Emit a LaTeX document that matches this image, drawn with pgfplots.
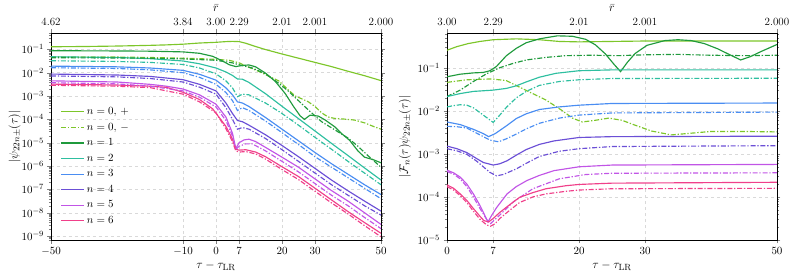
\documentclass[border=0pt]{standalone}
\usepackage{pgfplots}
\pgfplotsset{compat=1.18}
\definecolor{c0}{HTML}{7DC62A}
\definecolor{c1}{HTML}{1F9A3C}
\definecolor{c2}{HTML}{2EBFA0}
\definecolor{c3}{HTML}{4A8DF2}
\definecolor{c4}{HTML}{6B4FD6}
\definecolor{c5}{HTML}{C155E6}
\definecolor{c6}{HTML}{F0408A}
\pgfplotsset{
  base/.style={scale only axis, width=330pt, height=207pt, anchor=south west,
    tick align=outside, major tick length=3.5pt, minor tick length=2pt,
    tick label style={font=\fontsize{11}{13}\selectfont},
    label style={font=\fontsize{13}{15}\selectfont},
    every axis plot/.append style={line width=1.15pt}},
  dd/.style={dash pattern=on 5pt off 1.8pt on 1.3pt off 1.8pt},
}
\newcommand{\lp}[2]{\addplot[#1] table[row sep=\\, y expr={10^(\thisrowno{1})}] {#2};}
\begin{document}
\begin{tikzpicture}
% ---------------- LEFT PANEL ----------------
\begin{axis}[base, at={(0pt,0pt)}, xmin=-50, xmax=50, ymode=log, ymin=6.8e-10, ymax=0.5,
  xtick={-50,-10,0,7,20,30,50}, grid=major, major grid style={gray!30, dashed, line width=0.4pt},
  xlabel={$\tau-\tau_{\mathrm{LR}}$}, ylabel={$|\psi_{22n\pm}(\tau)|$},
  xlabel style={at={(axis description cs:0.5,-0.125)}, anchor=center},
  ylabel style={at={(axis description cs:-0.11,0.5)}, anchor=center},
  legend style={at={(0.02,0.66)}, anchor=north west, draw=none, fill=none,
    font=\fontsize{11}{13}\selectfont, row sep=3pt},
  legend cell align=left,
  legend image code/.code={\draw[#1, line width=1.15pt] (0pt,0pt) -- (23pt,0pt);}]
\lp{c0}{t v\\ -50 -0.89\\ -40 -0.88\\ -30 -0.86\\ -20 -0.83\\ -15 -0.81\\ -10 -0.78\\ -5 -0.73\\ 0 -0.70\\ 3 -0.67\\ 5 -0.66\\ 7 -0.67\\ 9 -0.74\\ 12 -0.88\\ 15 -1.01\\ 20 -1.20\\ 25 -1.38\\ 30 -1.56\\ 35 -1.74\\ 40 -1.94\\ 45 -2.13\\ 50 -2.34\\}
\addlegendentry{$n=0,\,+$}
\lp{c0,dd}{t v\\ -50 -1.32\\ -30 -1.33\\ -20 -1.35\\ -10 -1.38\\ -5 -1.40\\ 0 -1.43\\ 4 -1.47\\ 7 -1.58\\ 10 -1.77\\ 13 -1.95\\ 16 -2.15\\ 19 -2.35\\ 22 -2.75\\ 24 -3.0\\ 26 -3.12\\ 28 -3.25\\ 30 -3.45\\ 32 -3.72\\ 34 -3.9\\ 36 -3.96\\ 39 -3.99\\ 42 -4.03\\ 45 -4.15\\ 48 -4.32\\ 50 -4.42\\}
\addlegendentry{$n=0,\,-$}
\lp{c1}{t v\\ -50 -1.06\\ -30 -1.07\\ -20 -1.08\\ -10 -1.11\\ -5 -1.17\\ -1 -1.30\\ 2 -1.50\\ 4 -1.66\\ 6 -1.74\\ 8 -1.69\\ 10 -1.67\\ 12 -1.75\\ 15 -2.02\\ 18 -2.38\\ 21 -2.9\\ 23.5 -3.45\\ 25.5 -3.85\\ 26.8 -4.0\\ 28.5 -3.82\\ 31 -3.86\\ 33 -4.02\\ 36 -4.32\\ 38 -4.6\\ 40.5 -4.9\\ 43 -5.35\\ 45 -5.62\\ 47.5 -5.72\\ 50 -5.86\\}
\addlegendentry{$n=1$}
\lp{c2}{t v\\ -50 -1.32\\ -30 -1.35\\ -20 -1.40\\ -10 -1.50\\ -5 -1.62\\ 0 -1.80\\ 3 -1.97\\ 5 -2.12\\ 6.5 -2.27\\ 8 -2.28\\ 10 -2.42\\ 15 -2.9\\ 20 -3.44\\ 25 -3.97\\ 30 -4.5\\ 35 -5.03\\ 40 -5.55\\ 45 -6.08\\ 50 -6.6\\}
\addlegendentry{$n=2$}
\lp{c3}{t v\\ -50 -1.72\\ -30 -1.75\\ -20 -1.80\\ -10 -1.90\\ -5 -2.07\\ 0 -2.32\\ 3 -2.65\\ 5 -2.95\\ 6.5 -3.25\\ 8 -3.3\\ 10 -3.45\\ 15 -3.92\\ 20 -4.42\\ 25 -4.92\\ 30 -5.42\\ 35 -5.9\\ 40 -6.35\\ 45 -6.8\\ 50 -7.22\\}
\addlegendentry{$n=3$}
\lp{c4}{t v\\ -50 -2.06\\ -30 -2.10\\ -20 -2.16\\ -10 -2.30\\ -5 -2.5\\ 0 -2.78\\ 3 -3.3\\ 5 -3.75\\ 6.5 -4.05\\ 8 -4.1\\ 10 -4.25\\ 15 -4.66\\ 20 -5.12\\ 25 -5.6\\ 30 -6.1\\ 35 -6.6\\ 40 -7.06\\ 45 -7.5\\ 50 -7.93\\}
\addlegendentry{$n=4$}
\lp{c5}{t v\\ -50 -2.35\\ -30 -2.40\\ -20 -2.50\\ -15 -2.58\\ -10 -2.70\\ -5 -2.95\\ 0 -3.35\\ 3 -3.9\\ 5 -4.6\\ 6 -5.25\\ 7 -5.0\\ 8.5 -4.88\\ 10 -4.85\\ 12 -4.95\\ 15 -5.2\\ 20 -5.62\\ 25 -6.05\\ 30 -6.55\\ 35 -7.05\\ 40 -7.5\\ 45 -8.0\\ 50 -8.5\\}
\addlegendentry{$n=5$}
\lp{c6}{t v\\ -50 -2.49\\ -30 -2.53\\ -20 -2.58\\ -15 -2.63\\ -10 -2.84\\ -5 -3.15\\ -1 -3.55\\ 3 -4.3\\ 5 -4.85\\ 6 -5.28\\ 7 -5.32\\ 9 -5.3\\ 12 -5.4\\ 15 -5.6\\ 20 -6.03\\ 25 -6.45\\ 30 -6.95\\ 35 -7.45\\ 40 -7.95\\ 45 -8.42\\ 50 -8.88\\}
\addlegendentry{$n=6$}
\lp{c1,dd,forget plot}{t v\\ -50 -1.36\\ -20 -1.38\\ -10 -1.41\\ 0 -1.47\\ 5 -1.58\\ 8 -1.70\\ 11 -1.80\\ 15 -2.05\\ 19 -2.45\\ 22 -2.8\\ 25 -3.2\\ 28 -3.6\\ 32 -4.1\\ 36 -4.45\\ 40 -4.8\\ 43 -5.15\\ 46 -5.55\\ 50 -6.05\\}
\lp{c2,dd,forget plot}{t v\\ -50 -1.49\\ -30 -1.52\\ -20 -1.56\\ -10 -1.65\\ -5 -1.80\\ 0 -2.05\\ 3 -2.35\\ 5 -2.65\\ 6.5 -3.03\\ 8 -2.92\\ 10 -2.95\\ 15 -3.3\\ 20 -3.75\\ 25 -4.25\\ 30 -4.77\\ 35 -5.28\\ 40 -5.8\\ 45 -6.3\\ 50 -6.8\\}
\lp{c3,dd,forget plot}{t v\\ -50 -1.79\\ -30 -1.82\\ -20 -1.88\\ -10 -2.0\\ -5 -2.2\\ 0 -2.5\\ 3 -2.85\\ 5 -3.2\\ 6.5 -3.62\\ 8 -3.5\\ 10 -3.62\\ 15 -4.07\\ 20 -4.57\\ 25 -5.08\\ 30 -5.6\\ 35 -6.05\\ 40 -6.5\\ 45 -6.95\\ 50 -7.4\\}
\lp{c4,dd,forget plot}{t v\\ -50 -2.14\\ -30 -2.18\\ -20 -2.25\\ -10 -2.40\\ -5 -2.62\\ 0 -2.92\\ 3 -3.5\\ 5 -4.0\\ 6.5 -4.42\\ 8 -4.35\\ 10 -4.42\\ 15 -4.82\\ 20 -5.3\\ 25 -5.8\\ 30 -6.3\\ 35 -6.8\\ 40 -7.25\\ 45 -7.7\\ 50 -8.1\\}
\lp{c5,dd,forget plot}{t v\\ -50 -2.43\\ -30 -2.48\\ -20 -2.58\\ -10 -2.78\\ -5 -3.05\\ 0 -3.47\\ 3 -4.05\\ 5 -4.72\\ 6 -5.3\\ 7 -5.15\\ 9 -5.05\\ 11 -5.05\\ 15 -5.35\\ 20 -5.8\\ 25 -6.25\\ 30 -6.75\\ 35 -7.25\\ 40 -7.7\\ 45 -8.2\\ 50 -8.68\\}
\lp{c6,dd,forget plot}{t v\\ -50 -2.54\\ -30 -2.58\\ -20 -2.64\\ -10 -2.92\\ -5 -3.25\\ 0 -3.72\\ 3 -4.4\\ 5 -4.95\\ 6 -5.35\\ 7 -5.4\\ 9 -5.38\\ 12 -5.48\\ 15 -5.7\\ 20 -6.15\\ 25 -6.58\\ 30 -7.08\\ 35 -7.58\\ 40 -8.05\\ 45 -8.55\\ 50 -9.03\\}
\end{axis}
\begin{axis}[base, at={(0pt,0pt)}, xmin=-50, xmax=50, ymin=0, ymax=1,
  axis x line*=top, axis y line=none,
  xtick={-50,-10,0,7,20,30,50}, xticklabels={4.62,3.84,3.00,2.29,2.01,2.001,2.000},
  xlabel={$\bar{r}$}, xlabel style={at={(axis description cs:0.5,1.12)}, anchor=center}]
\addplot[draw=none] coordinates {(0,0.5)};
\end{axis}
% ---------------- RIGHT PANEL ----------------
\begin{axis}[base, at={(396pt,0pt)}, xmin=0, xmax=50, ymode=log, ymin=1e-5, ymax=0.64,
  xtick={0,7,20,30,50}, grid=major, major grid style={gray!30, dashed, line width=0.4pt},
  xlabel={$\tau-\tau_{\mathrm{LR}}$}, ylabel={$|\mathcal{F}_n(\tau)\psi_{22n\pm}(\tau)|$},
  xlabel style={at={(axis description cs:0.5,-0.125)}, anchor=center},
  ylabel style={at={(axis description cs:-0.128,0.5)}, anchor=center}]
\lp{c0}{t v\\ 0 -0.594\\ 1.5 -0.51\\ 3.2 -0.44\\ 5 -0.39\\ 7 -0.35\\ 10.5 -0.33\\ 14 -0.35\\ 17 -0.39\\ 20 -0.40\\ 25 -0.39\\ 30 -0.38\\ 50 -0.38\\}
\lp{c0,dd}{t v\\ 0 -1.34\\ 3 -1.28\\ 6.8 -1.26\\ 9 -1.30\\ 12.3 -1.55\\ 15 -1.75\\ 17.4 -1.99\\ 19 -2.17\\ 20.5 -2.26\\ 22.5 -2.22\\ 24.5 -2.17\\ 26.5 -2.22\\ 28.6 -2.34\\ 31 -2.47\\ 34 -2.56\\ 37 -2.52\\ 40 -2.48\\ 45 -2.48\\ 50 -2.49\\}
\lp{c1}{t v\\ 0 -1.21\\ 2 -1.15\\ 4 -1.12\\ 5.5 -1.11\\ 6.5 -1.07\\ 7.5 -0.97\\ 9 -0.72\\ 10.5 -0.55\\ 12 -0.42\\ 14 -0.33\\ 16.7 -0.26\\ 19 -0.27\\ 21 -0.34\\ 22.5 -0.47\\ 24 -0.68\\ 25.3 -0.92\\ 26.3 -1.09\\ 27.3 -0.88\\ 28.5 -0.67\\ 30.3 -0.48\\ 33 -0.37\\ 35 -0.35\\ 37 -0.37\\ 39 -0.44\\ 41 -0.56\\ 43 -0.71\\ 44.5 -0.82\\ 46 -0.74\\ 47.5 -0.63\\ 50 -0.46\\}
\lp{c1,dd}{t v\\ 0 -1.67\\ 2 -1.52\\ 4 -1.32\\ 6 -1.14\\ 8 -1.0\\ 10 -0.9\\ 12 -0.82\\ 15 -0.76\\ 18 -0.72\\ 22 -0.71\\ 26 -0.72\\ 30 -0.70\\ 35 -0.69\\ 40 -0.71\\ 45 -0.72\\ 50 -0.71\\}
\lp{c2}{t v\\ 0 -1.67\\ 2 -1.60\\ 4 -1.55\\ 7 -1.52\\ 9 -1.48\\ 10.5 -1.42\\ 12 -1.33\\ 14 -1.22\\ 16.5 -1.13\\ 20 -1.07\\ 25 -1.05\\ 50 -1.05\\}
\lp{c2,dd}{t v\\ 0 -1.91\\ 1 -1.88\\ 2 -1.86\\ 3 -1.87\\ 4 -1.93\\ 5.5 -2.10\\ 7 -2.27\\ 8 -2.10\\ 9 -1.92\\ 10.5 -1.70\\ 12 -1.55\\ 14 -1.41\\ 17 -1.32\\ 20 -1.28\\ 25 -1.25\\ 50 -1.245\\}
\lp{c3}{t v\\ 0 -2.26\\ 2 -2.32\\ 4 -2.43\\ 5.5 -2.53\\ 6.3 -2.60\\ 7.3 -2.53\\ 9 -2.35\\ 10.5 -2.18\\ 12 -2.07\\ 14 -1.97\\ 17 -1.91\\ 20 -1.87\\ 25 -1.83\\ 50 -1.82\\}
\lp{c3,dd}{t v\\ 0 -2.36\\ 1.5 -2.37\\ 3 -2.40\\ 5 -2.56\\ 6.5 -2.68\\ 7.8 -2.72\\ 9 -2.65\\ 10.5 -2.54\\ 12 -2.42\\ 14 -2.29\\ 17 -2.17\\ 20 -2.10\\ 25 -2.05\\ 50 -2.03\\}
\lp{c4}{t v\\ 0 -2.82\\ 1.5 -2.88\\ 3 -2.97\\ 4.5 -3.11\\ 5.5 -3.20\\ 7 -3.26\\ 8 -3.23\\ 9.1 -3.16\\ 10.5 -3.03\\ 12 -2.90\\ 14 -2.78\\ 16.2 -2.70\\ 20 -2.62\\ 25 -2.60\\ 50 -2.59\\}
\lp{c4,dd}{t v\\ 0 -2.88\\ 1.5 -2.93\\ 3 -3.01\\ 4.5 -3.17\\ 5.5 -3.30\\ 6.5 -3.43\\ 7.5 -3.51\\ 8.5 -3.48\\ 10.5 -3.35\\ 12 -3.22\\ 14 -3.06\\ 17 -2.94\\ 20 -2.88\\ 25 -2.83\\ 50 -2.81\\}
\lp{c5}{t v\\ 0 -3.38\\ 1 -3.44\\ 2 -3.54\\ 3 -3.70\\ 4 -3.93\\ 5 -4.20\\ 5.7 -4.42\\ 6.2 -4.58\\ 6.8 -4.42\\ 7.5 -4.25\\ 9.1 -3.93\\ 10.5 -3.76\\ 12.1 -3.62\\ 14 -3.50\\ 16.2 -3.39\\ 20 -3.30\\ 25 -3.26\\ 50 -3.245\\}
\lp{c5,dd}{t v\\ 0 -3.41\\ 1 -3.47\\ 2 -3.58\\ 3 -3.76\\ 4 -4.0\\ 5 -4.27\\ 6 -4.52\\ 6.6 -4.62\\ 7.3 -4.52\\ 8 -4.42\\ 10 -4.12\\ 13 -3.81\\ 17 -3.58\\ 21 -3.48\\ 25 -3.45\\ 50 -3.44\\}
\lp{c6}{t v\\ 0 -3.72\\ 1 -3.80\\ 2 -3.93\\ 3 -4.08\\ 4 -4.27\\ 5 -4.45\\ 5.6 -4.55\\ 6.3 -4.58\\ 7 -4.50\\ 8 -4.36\\ 9.5 -4.18\\ 11 -4.01\\ 13 -3.9\\ 15 -3.81\\ 18 -3.74\\ 20 -3.71\\ 25 -3.68\\ 50 -3.66\\}
\lp{c6,dd}{t v\\ 0 -3.76\\ 1 -3.84\\ 2 -3.97\\ 3 -4.13\\ 4 -4.33\\ 5 -4.52\\ 6 -4.65\\ 6.6 -4.68\\ 7.3 -4.62\\ 8 -4.50\\ 9.5 -4.31\\ 11 -4.13\\ 13 -4.0\\ 15 -3.93\\ 18 -3.87\\ 20 -3.84\\ 25 -3.81\\ 50 -3.80\\}
\end{axis}
\begin{axis}[base, at={(396pt,0pt)}, xmin=0, xmax=50, ymin=0, ymax=1,
  axis x line*=top, axis y line=none,
  xtick={0,7,20,30,50}, xticklabels={3.00,2.29,2.01,2.001,2.000},
  xlabel={$\bar{r}$}, xlabel style={at={(axis description cs:0.5,1.12)}, anchor=center}]
\addplot[draw=none] coordinates {(0,0.5)};
\end{axis}
\pgfresetboundingbox
\path (-51pt,-38pt) rectangle (742pt,240pt);
\end{tikzpicture}
\end{document}
